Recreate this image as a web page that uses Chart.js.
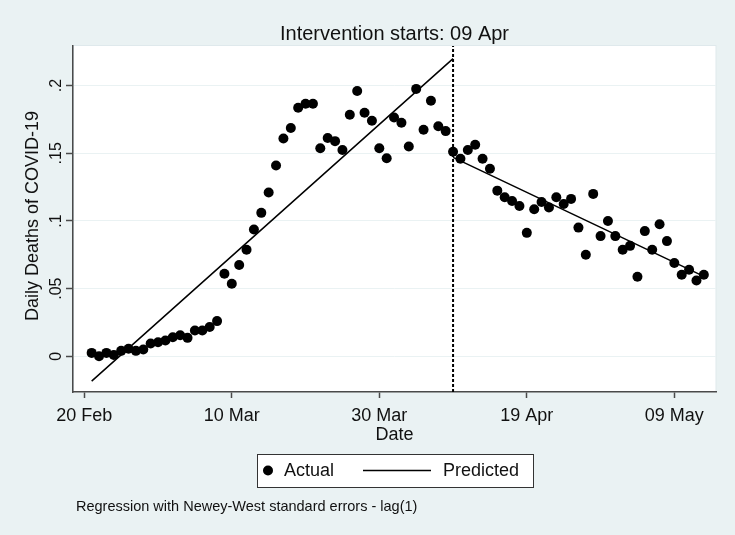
<!DOCTYPE html>
<html>
<head>
<meta charset="utf-8">
<title>Intervention starts: 09 Apr</title>
<script src="https://cdn.jsdelivr.net/npm/chart.js@4.4.1/dist/chart.umd.min.js"></script>
<style>
    html, body { margin: 0; padding: 0; background: #eaf2f3; }
    #wrap { position: relative; width: 735px; height: 535px; }
</style>
</head>
<body>
<div id="wrap"><canvas id="chart" width="735" height="535"></canvas></div>
<script>
// Daily deaths, one value per day from 21 Feb (day 1) to 14 May (day 84)
const actualDeaths = [
    0.0025, 0.0000, 0.0025, 0.0010, 0.0040, 0.0055, 0.0040, 0.0050, 0.0094, 0.0103,
    0.0116, 0.0140, 0.0155, 0.0136, 0.0190, 0.0190, 0.0217, 0.0260, 0.0610, 0.0536,
    0.0674, 0.0787, 0.0937, 0.1060, 0.1210, 0.1410, 0.1610, 0.1687, 0.1836, 0.1866,
    0.1866, 0.1537, 0.1613, 0.1590, 0.1524, 0.1785, 0.1960, 0.1800, 0.1740, 0.1537,
    0.1463, 0.1765, 0.1726, 0.1550, 0.1976, 0.1674, 0.1888, 0.1700, 0.1664, 0.1512,
    0.1460, 0.1524, 0.1563, 0.1460, 0.1386, 0.1224, 0.1175, 0.1148, 0.1110, 0.0912,
    0.1087, 0.1140, 0.1099, 0.1175, 0.1126, 0.1163, 0.0951, 0.0750, 0.1200, 0.0888,
    0.1000, 0.0888, 0.0787, 0.0816, 0.0588, 0.0925, 0.0787, 0.0976, 0.0851, 0.0689,
    0.0602, 0.0639, 0.0560, 0.0602
];
const actualDays = actualDeaths.map((_, i) => i + 1);

// fitted segments before and after the intervention
const preDays = [1, 50];
const preValues = [-0.0184, 0.220];
const postDays = [50, 84];
const postValues = [0.147, 0.059];
const interventionDay = 50;

const xTickDays = [0, 20, 40, 60, 80];
const xTickLabels = ['20 Feb', '10 Mar', '30 Mar', '19 Apr', '09 May'];
const yTickValues = [0, 0.05, 0.1, 0.15, 0.2];
const yTickLabels = ['0', '.05', '.1', '.15', '.2'];

const xMin = -1.53, xMax = 85.65;
const yMin = -0.0264, yMax = 0.2293;

const titleText = 'Intervention starts: 09 Apr';
const xTitle = 'Date';
const yTitle = 'Daily Deaths of COVID-19';
const legendLabels = ['Actual', 'Predicted'];
const noteText = 'Regression with Newey-West standard errors - lag(1)';

const FONT = '"Liberation Sans", Arial, sans-serif';
const INK = '#111';
const AXIS = '#4a4a4a';

const toPoints = (xs, ys) => xs.map((x, i) => ({ x, y: ys[i] }));
const predictedData = toPoints(preDays, preValues)
    .concat([{ x: interventionDay, y: null }])
    .concat(toPoints(postDays, postValues));

const stataFrame = {
    id: 'stataFrame',
    beforeDraw(chart) {
        const { ctx, chartArea: a } = chart;
        ctx.save();
        ctx.fillStyle = '#eaf2f3';
        ctx.fillRect(0, 0, chart.width, chart.height);
        ctx.fillStyle = '#ffffff';
        ctx.fillRect(a.left, a.top, a.right - a.left, a.bottom - a.top);
        ctx.strokeStyle = '#dfe9ec';
        ctx.lineWidth = 1;
        ctx.strokeRect(a.left + 0.5, a.top - 0.5, a.right - a.left - 0.5, a.bottom - a.top);
        ctx.restore();
    },
    afterDraw(chart) {
        const { ctx, chartArea: a } = chart;
        const yScale = chart.scales.y;
        const midX = (a.left + a.right) / 2;
        ctx.save();
        ctx.fillStyle = INK;
        ctx.textBaseline = 'alphabetic';
        ctx.textAlign = 'center';

        ctx.font = '20px ' + FONT;
        ctx.fillText(titleText, midX, 39.5);

        ctx.font = '18px ' + FONT;
        ctx.fillText(xTitle, midX, 440);

        ctx.save();
        ctx.translate(37.5, 216);
        ctx.rotate(-Math.PI / 2);
        ctx.fillText(yTitle, 0, 0);
        ctx.restore();

        // Stata writes the y tick labels vertically
        ctx.font = '16px ' + FONT;
        yTickValues.forEach((v, i) => {
            ctx.save();
            ctx.translate(61, yScale.getPixelForValue(v));
            ctx.rotate(-Math.PI / 2);
            ctx.fillText(yTickLabels[i], 0, 0);
            ctx.restore();
        });

        // legend box
        const actualSet = chart.data.datasets[0];
        const predSet = chart.data.datasets[1];
        ctx.fillStyle = '#ffffff';
        ctx.fillRect(257, 454, 276, 33);
        ctx.strokeStyle = '#333';
        ctx.lineWidth = 1;
        ctx.strokeRect(257.5, 454.5, 276, 33);

        ctx.fillStyle = actualSet.backgroundColor;
        ctx.beginPath();
        ctx.arc(268, 470.5, actualSet.pointRadius, 0, Math.PI * 2);
        ctx.fill();

        ctx.strokeStyle = predSet.borderColor;
        ctx.lineWidth = predSet.borderWidth;
        ctx.beginPath();
        ctx.moveTo(363, 470.5);
        ctx.lineTo(431, 470.5);
        ctx.stroke();

        ctx.fillStyle = INK;
        ctx.font = '18px ' + FONT;
        ctx.textAlign = 'left';
        ctx.textBaseline = 'middle';
        ctx.fillText(legendLabels[0], 284, 471);
        ctx.fillText(legendLabels[1], 443, 471);

        ctx.font = '14.5px ' + FONT;
        ctx.textBaseline = 'alphabetic';
        ctx.fillText(noteText, 76, 510.5);
        ctx.restore();
    }
};

const chart = new Chart(document.getElementById('chart'), {
    type: 'scatter',
    data: {
        datasets: [
            {
                label: legendLabels[0],
                data: toPoints(actualDays, actualDeaths),
                backgroundColor: '#000000',
                borderWidth: 0,
                pointRadius: 5,
                pointHoverRadius: 5,
                order: 2
            },
            {
                label: legendLabels[1],
                data: predictedData,
                showLine: true,
                spanGaps: false,
                borderColor: '#000000',
                borderWidth: 1.5,
                pointRadius: 0,
                order: 1
            },
            {
                label: 'intervention',
                data: [{ x: interventionDay, y: yMin }, { x: interventionDay, y: yMax }],
                showLine: true,
                borderColor: '#000000',
                borderWidth: 2,
                borderDash: [3, 2],
                pointRadius: 0,
                order: 0
            }
        ]
    },
    options: {
        responsive: false,
        animation: false,
        events: [],
        layout: { padding: { top: 46, right: 19, left: 0, bottom: 0 } },
        plugins: {
            legend: { display: false },
            title: { display: false },
            tooltip: { enabled: false }
        },
        scales: {
            x: {
                type: 'linear',
                min: xMin,
                max: xMax,
                afterBuildTicks: s => { s.ticks = xTickDays.map(v => ({ value: v })); },
                afterFit: s => { s.height = 143; },
                grid: { drawOnChartArea: false, drawTicks: true, tickLength: 6, tickColor: AXIS, tickWidth: 1.5 },
                border: { display: true, color: AXIS, width: 1.5 },
                ticks: {
                    autoSkip: false,
                    maxRotation: 0,
                    padding: 7,
                    color: INK,
                    font: { family: FONT, size: 18 },
                    callback: v => xTickLabels[xTickDays.indexOf(v)]
                }
            },
            y: {
                type: 'linear',
                min: yMin,
                max: yMax,
                afterBuildTicks: s => { s.ticks = yTickValues.map(v => ({ value: v })); },
                afterFit: s => { s.width = 73; },
                grid: { color: '#eaf2f3', lineWidth: 1, drawTicks: true, tickLength: 7, tickColor: AXIS, tickWidth: 1.5 },
                border: { display: true, color: AXIS, width: 1.5 },
                ticks: { display: false }
            }
        }
    },
    plugins: [stataFrame]
});
</script>
</body>
</html>
